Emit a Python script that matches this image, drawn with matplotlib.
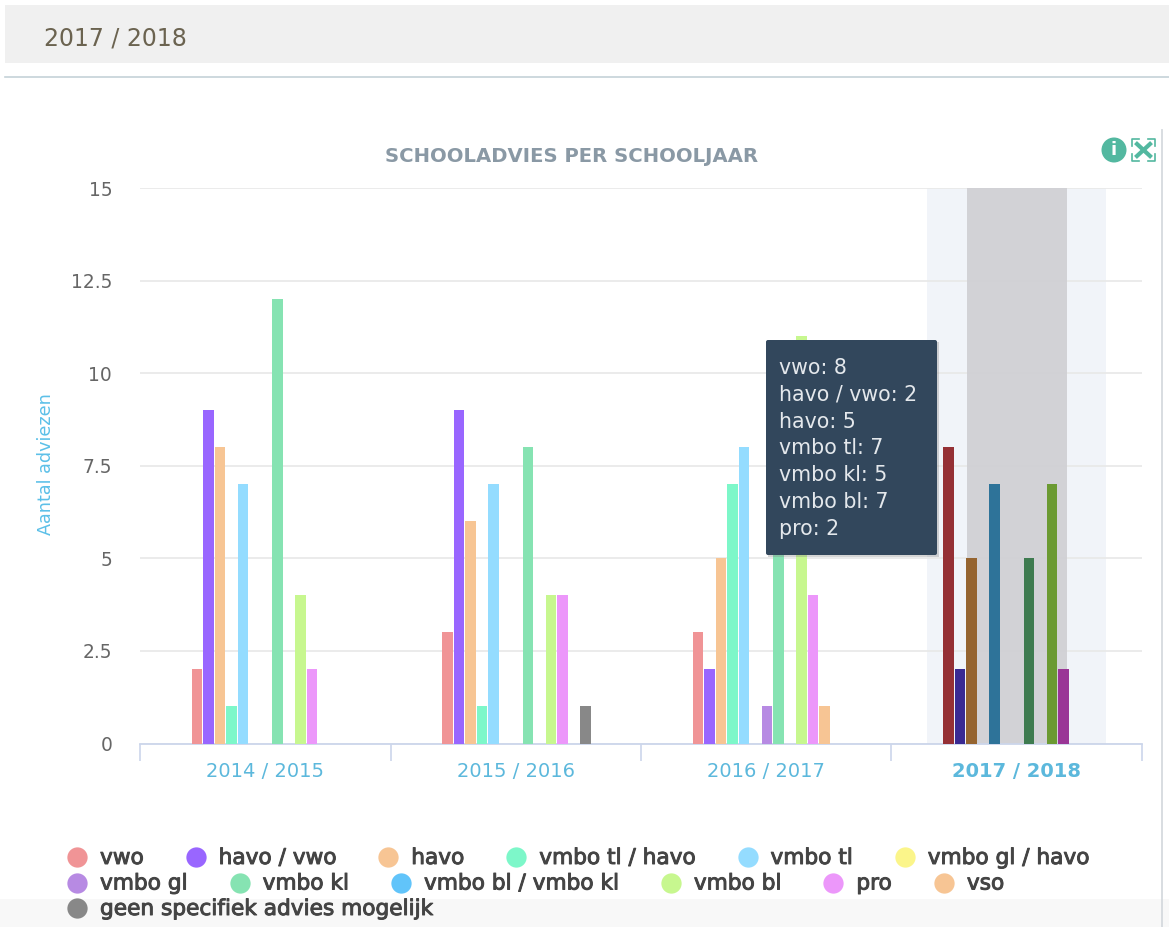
import matplotlib
matplotlib.use("Agg")
import matplotlib.pyplot as plt
import matplotlib.patheffects as pe
from matplotlib.patches import Circle, FancyBboxPatch, Rectangle
import numpy as np

plt.rcParams['font.family'] = ['DejaVu Sans']

years = ["2014 / 2015", "2015 / 2016", "2016 / 2017", "2017 / 2018"]
series = ["vwo", "havo / vwo", "havo", "vmbo tl / havo", "vmbo tl", "vmbo gl / havo",
          "vmbo gl", "vmbo kl", "vmbo bl / vmbo kl", "vmbo bl", "pro", "vso",
          "geen specifiek advies mogelijk"]

# one row per year, one column per series
# 2016/2017 vmbo kl is mostly behind the tooltip, so that one is a guess
advies_2014 = [2, 9, 8, 1, 7, 0, 0, 12, 0, 4, 2, 0, 0]
advies_2015 = [3, 9, 6, 1, 7, 0, 0, 8, 0, 4, 4, 0, 1]
advies_2016 = [3, 2, 5, 7, 8, 0, 1, 6, 0, 11, 4, 1, 0]
advies_2017 = [8, 2, 5, 0, 7, 0, 0, 5, 0, 7, 2, 0, 0]

colors = ["#f09496", "#9966ff", "#f7c594", "#7df7c9", "#94dcff", "#fbf58a", "#b78ae3",
          "#86e3b2", "#61c4fa", "#c7f78f", "#ec97fa", "#f7c594", "#888888"]
colors_selected = ["#953035", "#3a2a93", "#956430", "#2e9970", "#2e7399", "#99932e", "#6a3a99",
                   "#3e7b50", "#2e7399", "#6b9a32", "#9a3596", "#956430", "#444444"]

values = np.array([advies_2014, advies_2015, advies_2016, advies_2017])
selected = 3

fig = plt.figure(figsize=(11.69, 9.27), dpi=100, facecolor="white")
ax = fig.add_axes([140 / 1169, 1 - 743.5 / 927, 1002 / 1169, 555.5 / 927])
ax.set_xlim(-0.5, 3.5)
ax.set_ylim(0, 15)

# highlighted year
ax.axvspan(selected - 0.358, selected + 0.358, color="#f1f4f9", lw=0, zorder=0)
ax.axvspan(selected - 0.2, selected + 0.2, color="#d0d0d4", alpha=0.93, lw=0, zorder=1)

slot = 0.0459
for i in range(len(series)):
    xs = np.arange(len(years)) + (i - 6) * slot + 0.003
    cols = [colors_selected[i] if y == selected else colors[i] for y in range(len(years))]
    ax.bar(xs, values[:, i], width=0.0435, color=cols, lw=0, zorder=3)

ax.set_yticks([0, 2.5, 5, 7.5, 10, 12.5, 15])
ax.set_yticklabels(["0", "2.5", "5", "7.5", "10", "12.5", "15"], color="#666666", fontsize=13.4)
ax.yaxis.grid(True, color="#e8e8e8", lw=1.2)
ax.tick_params(axis="y", length=0, pad=20)
ax.set_xticks(np.arange(len(years)))
ax.set_xticklabels(years, color="#5cb8dc", fontsize=14)
ax.get_xticklabels()[selected].set_fontweight("bold")
ax.tick_params(axis="x", length=0, pad=13)
ax.set_xticks(np.arange(len(years) + 1) - 0.5, minor=True)
ax.tick_params(axis="x", which="minor", length=12, width=1.2, color="#ccd6eb")
for s in ["top", "left", "right"]:
    ax.spines[s].set_visible(False)
ax.spines["bottom"].set_color("#ccd6eb")
ax.spines["bottom"].set_linewidth(1.3)
ax.set_axisbelow(True)

# everything outside the chart goes on an overlay in pixel coordinates
ov = fig.add_axes([0, 0, 1, 1], zorder=5)
ov.set_xlim(0, 1169)
ov.set_ylim(927, 0)
ov.axis("off")

ov.add_patch(Rectangle((5, 5), 1164, 58, color="#f0f0f0", lw=0))
ov.text(44, 38, "2017 / 2018", fontsize=17, color="#6b6350", va="center")
ov.plot([5, 1169], [77, 77], color="#c5d2d8", lw=1.2)
ov.plot([1162, 1162], [130, 927], color="#d5dade", lw=1.3)
ov.add_patch(Rectangle((0, 899), 1169, 28, color="#f8f8f8", lw=0))

ov.text(572, 156, "SCHOOLADVIES PER SCHOOLJAAR", fontsize=14.1, fontweight="bold",
        color="#8a99a5", ha="center", va="center")
ov.text(46, 464, "Aantal adviezen", fontsize=12.7, color="#5cc0e8", rotation=90,
        ha="center", va="center")

# info + fullscreen icons
ov.add_patch(Circle((1114, 150), 12.5, color="#53b8a0", lw=0))
ov.text(1114, 150, "i", fontsize=13, fontweight="bold", color="white", ha="center", va="center")
for x0, dx in [(1132, 1), (1155, -1)]:
    for y0, dy in [(139, 1), (161, -1)]:
        ov.plot([x0 + 7 * dx, x0, x0], [y0, y0, y0 + 7 * dy], color="#53b8a0", lw=1.2)
ov.plot([1137, 1150], [144, 156], color="#53b8a0", lw=3)
ov.plot([1137, 1150], [156, 144], color="#53b8a0", lw=3)

# tooltip for the selected year
ov.add_patch(Rectangle((768, 342), 171, 215, color="#888888", alpha=0.35, lw=0))
ov.add_patch(FancyBboxPatch((766, 340), 171, 215, boxstyle="round,pad=0,rounding_size=2",
                            fc="#32475c", ec="none"))
lines = [f"{s}: {v}" for s, v in zip(series, values[selected]) if v > 0]
for k, line in enumerate(lines):
    ov.text(779, 368 + k * 26.8, line, fontsize=14.8, color="#e4e8ec", va="center")

# legend, laid out as a flowing list over three rows
rows = [series[:6], series[6:12], series[12:]]
renderer = fig.canvas.get_renderer()
bold_ish = [pe.withStroke(linewidth=0.7, foreground="#444444")]
idx = 0
for r, row in enumerate(rows):
    y = 857 + r * 25.5
    x = 77
    for name in row:
        ov.plot([x], [y], "o", ms=14.6, color=colors[idx], mew=0)
        t = ov.text(x + 23, y + 1, name, fontsize=15.6, color="#444444", va="center",
                    path_effects=bold_ish)
        x += 23 + t.get_window_extent(renderer).width + 52
        idx += 1

fig.savefig("out.png", dpi=100)
